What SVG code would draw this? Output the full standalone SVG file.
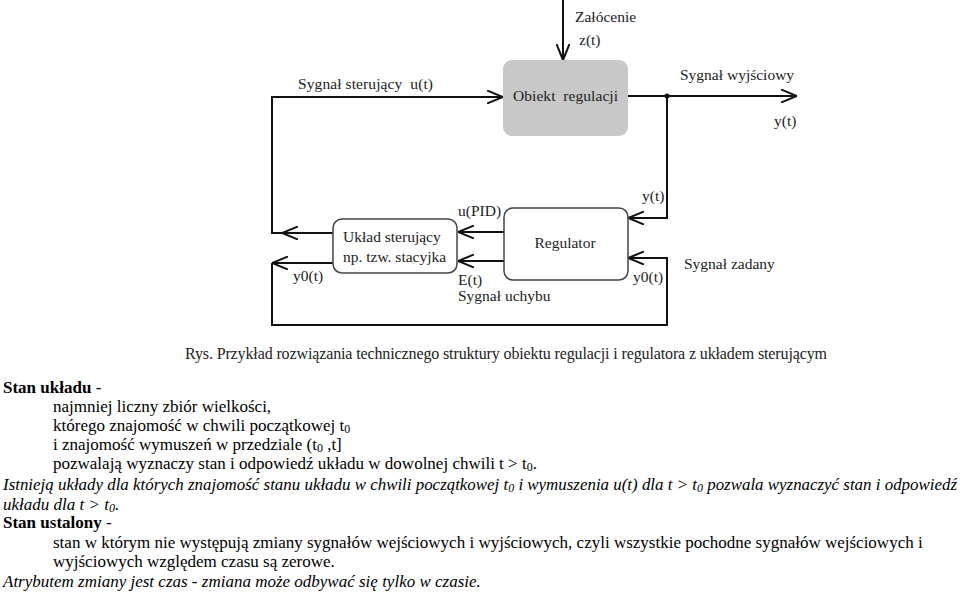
<svg xmlns="http://www.w3.org/2000/svg" width="960" height="594" viewBox="0 0 960 594">
<style>
.ln{fill:none;stroke:#111;stroke-width:2}
.bx{stroke:#444;stroke-width:1.5}
.dt{font-family:"Liberation Serif","Times New Roman",serif;font-size:15.5px;fill:#222;white-space:pre}
.cap{font-size:16px}
.bt{font-family:"Liberation Serif","Times New Roman",serif;font-size:17px;fill:#000}
.b{font-weight:bold}
.i{font-style:italic}
.sub{font-size:12px}
</style>
<defs>
<marker id="ah" viewBox="0 0 16 14" refX="16" refY="7" markerWidth="16" markerHeight="14" markerUnits="userSpaceOnUse" orient="auto">
<path d="M0,0.5 L16,7 L0,13.5" fill="none" stroke="#111" stroke-width="2"/>
</marker>
</defs>
<rect width="960" height="594" fill="#fff"/>

<g id="connectors">
<path class="ln" d="M563,0 L563,60" marker-end="url(#ah)"/>
<path class="ln" d="M282,233 L272,233 L272,97 L503,97" marker-end="url(#ah)"/>
<path class="ln" d="M333,233 L282,233" marker-end="url(#ah)"/>
<path class="ln" d="M628,96 L797,96" marker-end="url(#ah)"/>
<circle cx="667" cy="96" r="2.5" fill="#111"/>
<path class="ln" d="M667,96 L667,218 L628,218" marker-end="url(#ah)"/>
<path class="ln" d="M504,232 L458,232" marker-end="url(#ah)"/>
<path class="ln" d="M504,261 L458,261" marker-end="url(#ah)"/>
<path class="ln" d="M333,263 L272,263" marker-end="url(#ah)"/>
<path class="ln" d="M272,263 L272,325 L667,325 L667,258 L628,258" marker-end="url(#ah)"/>
</g>

<g id="obiekt">
<rect x="503" y="60" width="125" height="76" rx="9" fill="#c8c8c8"/>
<text class="dt" x="513" y="101" textLength="105">Obiekt  regulacji</text>
</g>
<g id="regulator">
<rect class="bx" x="504" y="208" width="124" height="72" rx="9" fill="#fff"/>
<text class="dt" x="565" y="248" text-anchor="middle">Regulator</text>
</g>
<g id="uklad">
<rect class="bx" x="333" y="219" width="124" height="54" rx="9" fill="#fff"/>
<text class="dt" x="343" y="242">Układ sterujący</text>
<text class="dt" x="343" y="262">np. tzw. stacyjka</text>
</g>

<g id="labels">
<text class="dt" x="575" y="22">Załócenie</text>
<text class="dt" x="579" y="45">z(t)</text>
<text class="dt" x="298" y="89" textLength="135">Sygnał sterujący  u(t)</text>
<text class="dt" x="680" y="80">Sygnał wyjściowy</text>
<text class="dt" x="774" y="126">y(t)</text>
<text class="dt" x="642" y="201">y(t)</text>
<text class="dt" x="458" y="216">u(PID)</text>
<text class="dt" x="458" y="285">E(t)</text>
<text class="dt" x="458" y="301">Sygnał uchybu</text>
<text class="dt" x="293" y="281">y0(t)</text>
<text class="dt" x="633" y="282">y0(t)</text>
<text class="dt" x="684" y="269">Sygnał zadany</text>
<text class="dt cap" x="185" y="359" textLength="642">Rys. Przykład rozwiązania technicznego struktury obiektu regulacji i regulatora z układem sterującym</text>
</g>

<g id="body">
<text class="bt b" x="3" y="393">Stan układu <tspan font-weight="normal">-</tspan></text>
<text class="bt" x="53" y="412">najmniej liczny zbiór wielkości,</text>
<text class="bt" x="53" y="431">którego znajomość w chwili początkowej t<tspan class="sub" dy="2">0</tspan></text>
<text class="bt" x="53" y="450">i znajomość wymuszeń w przedziale (t<tspan class="sub" dy="2">0</tspan><tspan dy="-2"> ,t]</tspan></text>
<text class="bt" x="53" y="469">pozwalają wyznaczy stan i odpowiedź układu w dowolnej chwili t &gt; t<tspan class="sub" dy="2">0</tspan><tspan dy="-2">.</tspan></text>
<text class="bt i" x="3" y="490" textLength="954" lengthAdjust="spacingAndGlyphs">Istnieją układy dla których znajomość stanu układu w chwili początkowej t<tspan class="sub" dy="2">0</tspan><tspan dy="-2"> i wymuszenia u(t) dla t &gt; t</tspan><tspan class="sub" dy="2">0</tspan><tspan dy="-2"> pozwala wyznaczyć stan i odpowiedź</tspan></text>
<text class="bt i" x="3" y="510">układu dla t &gt; t<tspan class="sub" dy="2">0</tspan><tspan dy="-2">.</tspan></text>
<text class="bt b" x="3" y="528">Stan ustalony <tspan font-weight="normal">-</tspan></text>
<text class="bt" x="53" y="548">stan w którym nie występują zmiany sygnałów wejściowych i wyjściowych, czyli wszystkie pochodne sygnałów wejściowych i</text>
<text class="bt" x="53" y="567">wyjściowych względem czasu są zerowe.</text>
<text class="bt i" x="3" y="587">Atrybutem zmiany jest czas - zmiana może odbywać się tylko w czasie.</text>
</g>
</svg>
